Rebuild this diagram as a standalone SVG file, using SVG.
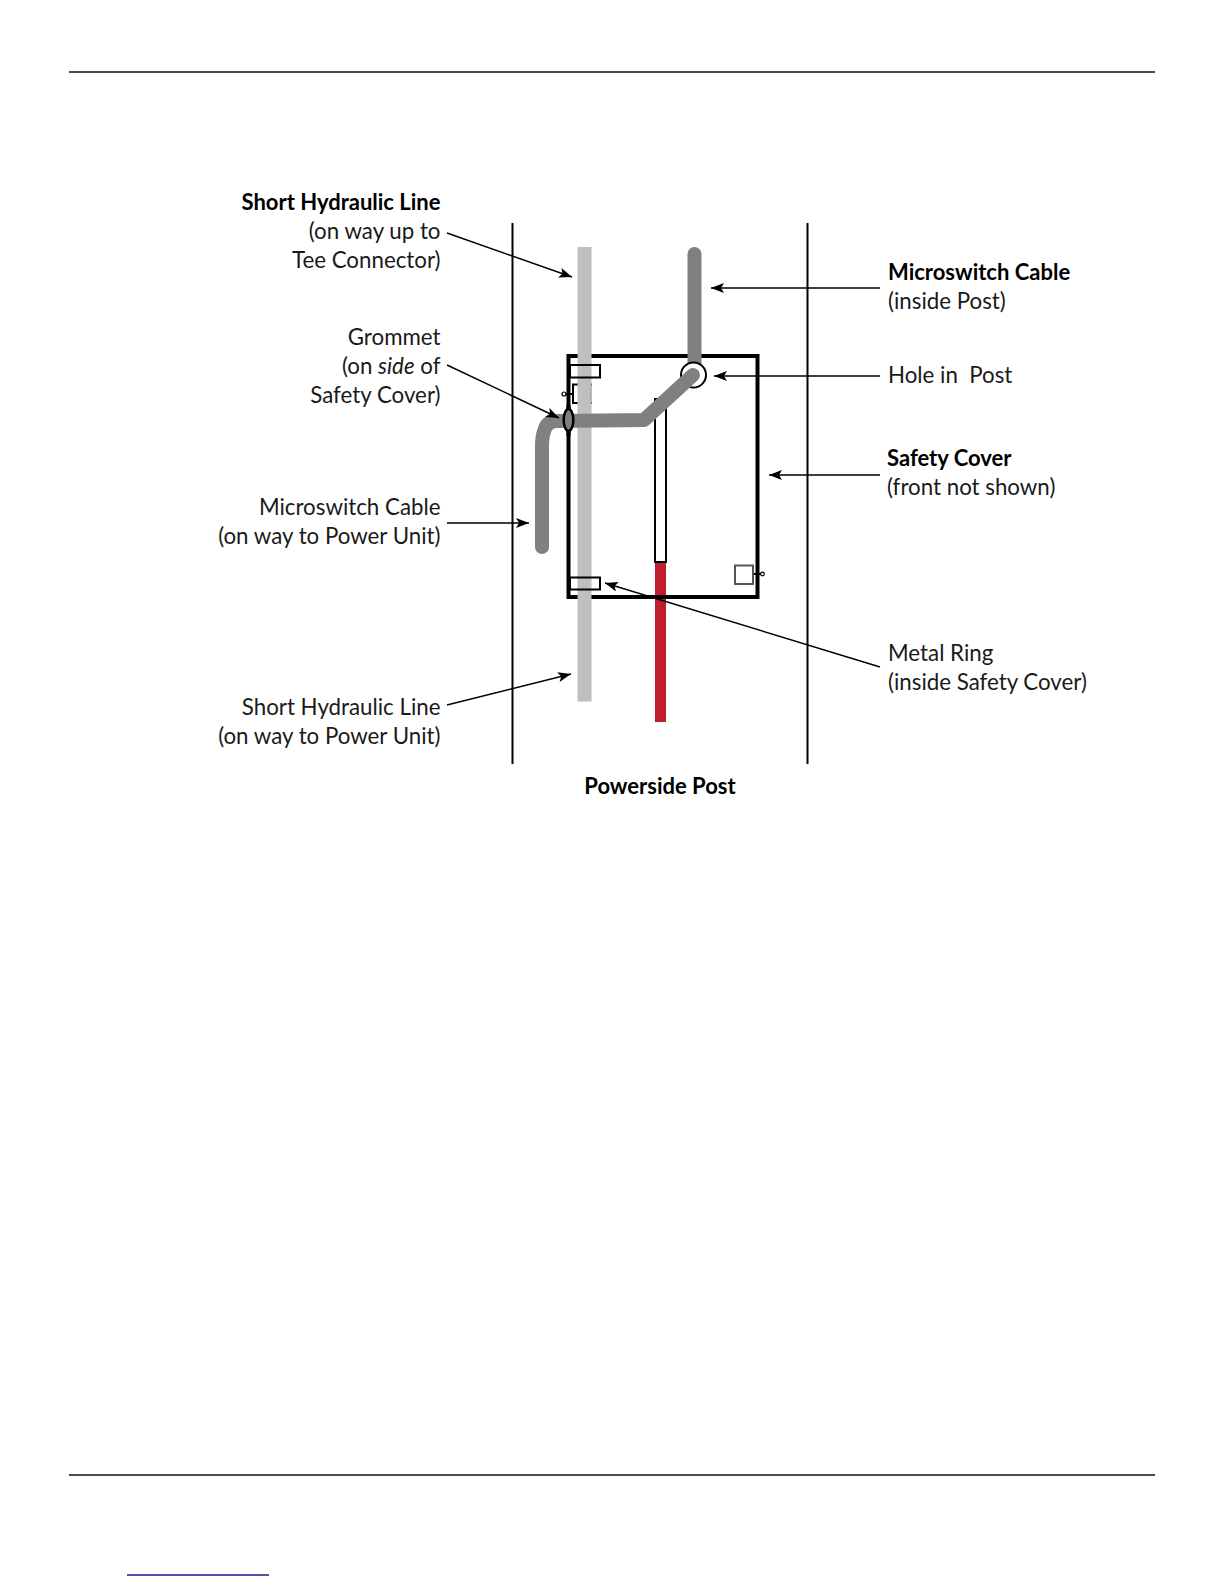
<svg xmlns="http://www.w3.org/2000/svg" width="1224" height="1584" viewBox="0 0 1224 1584">
<defs>
<style>
text{font-family:"Lato","Carlito","Liberation Sans",sans-serif;font-size:22.3px;fill:#1a1a1a}
.r{text-anchor:end}
.b{font-weight:700;fill:#000;font-size:22px}
.k{stroke:#000;fill:none}
.c{stroke:#808080;stroke-width:14;fill:none;stroke-linecap:round;stroke-linejoin:round}
.a{stroke:#000;stroke-width:1.4;fill:none;marker-end:url(#ah)}
</style>
<marker id="ah" markerUnits="userSpaceOnUse" markerWidth="14" markerHeight="10" refX="13" refY="5" orient="auto"><path d="M0 0L13 5L0 10L3 5Z" fill="#000"/></marker>
</defs>
<rect width="1224" height="1584" fill="#fff"/>
<g id="page-rules">
<line x1="69" y1="72" x2="1155" y2="72" stroke="#111" stroke-width="1.5"/>
<line x1="69" y1="1475" x2="1155" y2="1475" stroke="#111" stroke-width="1.5"/>
<line x1="127" y1="1575" x2="269" y2="1575" stroke="#1a1a8c" stroke-width="1.5"/>
</g>
<g id="post">
<line class="k" stroke-width="2" x1="512.5" y1="223" x2="512.5" y2="764"/>
<line class="k" stroke-width="2" x1="807.5" y1="223" x2="807.5" y2="764"/>
</g>
<g id="red-line"><rect x="655" y="562" width="11" height="160" fill="#be1e2d"/></g>
<g id="safety-cover"><rect class="k" stroke-width="4" x="568.5" y="356" width="189" height="241"/></g>
<g id="white-tube"><rect x="655" y="399" width="11" height="163" fill="#fff" stroke="#000" stroke-width="2"/></g>
<g id="microswitch-upper"><line class="c" x1="694.500" y1="254" x2="694.500" y2="370"/></g>
<g id="hole"><circle cx="693.500" cy="375" r="12.500" fill="#fff" stroke="#000" stroke-width="2"/></g>
<g id="inner-ring"><path class="k" stroke-width="2" d="M592 384.500H573V403H592"/></g>
<g id="hydraulic-line"><rect x="577.500" y="247" width="14" height="454.500" fill="#bfbfbf"/></g>
<g id="metal-rings">
<rect class="k" stroke-width="2" x="570" y="365" width="30" height="12.500"/>
<rect class="k" stroke-width="2" x="570" y="577.500" width="30" height="12"/>
<path d="M591 384v20" stroke="#999" stroke-width="1"/>
<line class="k" stroke-width="2" x1="564" y1="394" x2="573" y2="394"/>
<circle cx="564" cy="394" r="2" fill="#fff" stroke="#000" stroke-width="1.200"/>
</g>
<g id="microswitch-lower"><path class="c" d="M693 375L644 420L557 421Q547 421 544.500 430Q542 436 542 446L542 547"/></g>
<g id="grommet">
<line x1="568.500" y1="405" x2="568.500" y2="436" stroke="#000" stroke-width="4"/>
<ellipse cx="568.500" cy="420" rx="4.800" ry="11" fill="#808080" stroke="#000" stroke-width="2.500"/>
</g>
<g id="bracket">
<rect x="735" y="565.500" width="18" height="18.500" fill="#fff" stroke="#555" stroke-width="2"/>
<line class="k" stroke-width="2" x1="754" y1="574" x2="762" y2="574"/>
<circle cx="762.500" cy="574" r="1.800" fill="#fff" stroke="#000" stroke-width="1.200"/>
</g>
<g id="connectors">
<line class="a" x1="447" y1="233" x2="572" y2="277"/>
<line class="a" x1="880" y1="288" x2="711" y2="288"/>
<line class="a" x1="880" y1="376" x2="714" y2="376"/>
<line class="a" x1="880" y1="475" x2="769" y2="475"/>
<line class="a" x1="447" y1="365" x2="559" y2="418"/>
<line class="a" x1="447" y1="523" x2="529" y2="523"/>
<line class="a" x1="447" y1="705" x2="571" y2="674"/>
<line class="a" x1="880" y1="667" x2="605" y2="583"/>
</g>
<g id="label-short-top"><text class="r b" x="440.500" y="210">Short Hydraulic Line</text><text class="r" x="440.500" y="239">(on way up to</text><text class="r" x="440.500" y="268">Tee Connector)</text></g>
<g id="label-grommet"><text class="r" x="440.500" y="345">Grommet</text><text class="r" x="440.500" y="374">(on <tspan font-style="italic">side</tspan> of</text><text class="r" x="440.500" y="403">Safety Cover)</text></g>
<g id="label-cable-left"><text class="r" x="440.500" y="515">Microswitch Cable</text><text class="r" x="440.500" y="544">(on way to Power Unit)</text></g>
<g id="label-short-bottom"><text class="r" x="440.500" y="715">Short Hydraulic Line</text><text class="r" x="440.500" y="744">(on way to Power Unit)</text></g>
<g id="label-cable-right"><text class="b" x="888" y="280">Microswitch Cable</text><text x="888" y="309">(inside Post)</text></g>
<g id="label-hole"><text x="888" y="383" xml:space="preserve">Hole in  Post</text></g>
<g id="label-cover"><text class="b" x="887" y="466">Safety Cover</text><text x="887" y="495">(front not shown)</text></g>
<g id="label-ring"><text x="888" y="661">Metal Ring</text><text x="888" y="690">(inside Safety Cover)</text></g>
<g id="label-title"><text class="b" x="660" y="794" text-anchor="middle">Powerside Post</text></g>
</svg>
